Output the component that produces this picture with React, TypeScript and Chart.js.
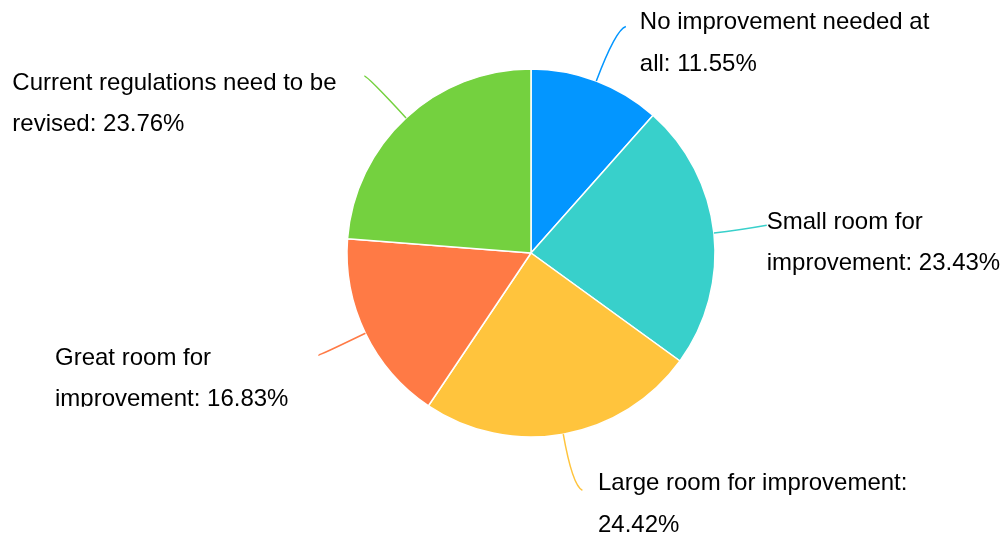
import React, { useEffect, useRef } from 'react';
import { Chart, registerables } from 'chart.js';

Chart.register(...registerables);

const CATEGORIES = [
  'No improvement needed at all',
  'Small room for improvement',
  'Large room for improvement',
  'Great room for improvement',
  'Current regulations need to be revised',
];
const VALUES = [11.55, 23.43, 24.42, 16.83, 23.76];
const COLORS = ['#0396FF', '#38D0CB', '#FFC43D', '#FF7A45', '#74D13F'];

// style-only layout for labels and leader lines
const LABEL_MAX_WIDTH = [322, 238, 322, 262, 345];
const LEADER = [
  { len: 55, endDx: 10, endDy: -3, textDx: 14, textDy: 2.5, clip: 0 },
  { len: 25, endDx: 28, endDy: -5, textDx: 0, textDy: 3.7, clip: 0 },
  { len: 52, endDx: 10, endDy: 5, textDx: 15.6, textDy: 0, clip: 0 },
  { len: 52, endDx: 0, endDy: -1, textDx: -263.6, textDy: 10, clip: 52 },
  { len: 57, endDx: -3, endDy: 0, textDx: -352, textDy: 13.8, clip: 0 },
];
const LINE_HEIGHT = 41.5;
const FONT = '24px "Liberation Sans", Arial, Helvetica, sans-serif';

function wrapText(ctx: CanvasRenderingContext2D, text: string, maxW: number): string[] {
  const words = text.split(' ');
  const lines: string[] = [];
  let cur = '';
  for (const w of words) {
    const test = cur ? cur + ' ' + w : w;
    if (cur && ctx.measureText(test).width > maxW) {
      lines.push(cur);
      cur = w;
    } else {
      cur = test;
    }
  }
  if (cur) lines.push(cur);
  return lines;
}

const labelPlugin = {
  id: 'pieOuterLabels',
  afterDatasetsDraw(chart: any) {
    const ctx: CanvasRenderingContext2D = chart.ctx;
    const meta = chart.getDatasetMeta(0);
    meta.data.forEach((arc: any, i: number) => {
      const { x, y, startAngle, endAngle, outerRadius } = arc.getProps(
        ['x', 'y', 'startAngle', 'endAngle', 'outerRadius'],
        true
      );
      const mid = (startAngle + endAngle) / 2;
      const c = Math.cos(mid);
      const s = Math.sin(mid);
      const L = LEADER[i];
      const p0 = { x: x + c * outerRadius, y: y + s * outerRadius };
      const p1 = { x: x + c * (outerRadius + L.len), y: y + s * (outerRadius + L.len) };
      const p2 = { x: p1.x + L.endDx, y: p1.y + L.endDy };

      ctx.save();
      ctx.strokeStyle = COLORS[i];
      ctx.lineWidth = 1.5;
      ctx.beginPath();
      ctx.moveTo(p0.x, p0.y);
      ctx.quadraticCurveTo(p1.x, p1.y, p2.x, p2.y);
      ctx.stroke();

      ctx.font = FONT;
      ctx.fillStyle = '#000';
      ctx.textAlign = 'left';
      ctx.textBaseline = 'alphabetic';
      const text = `${CATEGORIES[i]}: ${VALUES[i].toFixed(2)}%`;
      const lines = wrapText(ctx, text, LABEL_MAX_WIDTH[i]);
      const tx = p2.x + L.textDx;
      const ty = p2.y + L.textDy;
      if (L.clip) {
        ctx.beginPath();
        ctx.rect(0, 0, chart.width, p2.y + L.clip);
        ctx.clip();
      }
      lines.forEach((ln, k) => ctx.fillText(ln, tx, ty + k * LINE_HEIGHT));
      ctx.restore();
    });
  },
};

export default function App() {
  const ref = useRef<HTMLCanvasElement | null>(null);
  useEffect(() => {
    if (!ref.current) return;
    const chart = new Chart(ref.current, {
      type: 'pie',
      data: {
        labels: CATEGORIES,
        datasets: [
          {
            data: VALUES,
            backgroundColor: COLORS,
            borderColor: '#ffffff',
            borderWidth: 1.5,
            radius: 184,
          } as any,
        ],
      },
      options: {
        responsive: false,
        animation: false,
        devicePixelRatio: 1,
        layout: { padding: { left: 57, right: 0, top: 0, bottom: 29 } },
        plugins: {
          legend: { display: false },
          tooltip: { enabled: false },
        },
      },
      plugins: [labelPlugin],
    });
    return () => chart.destroy();
  }, []);
  return (
    <div
      style={{
        position: 'fixed',
        left: 0,
        top: 0,
        width: 1005,
        height: 535,
        background: '#ffffff',
      }}
    >
      <canvas ref={ref} width={1005} height={535} style={{ display: 'block' }} />
    </div>
  );
}
